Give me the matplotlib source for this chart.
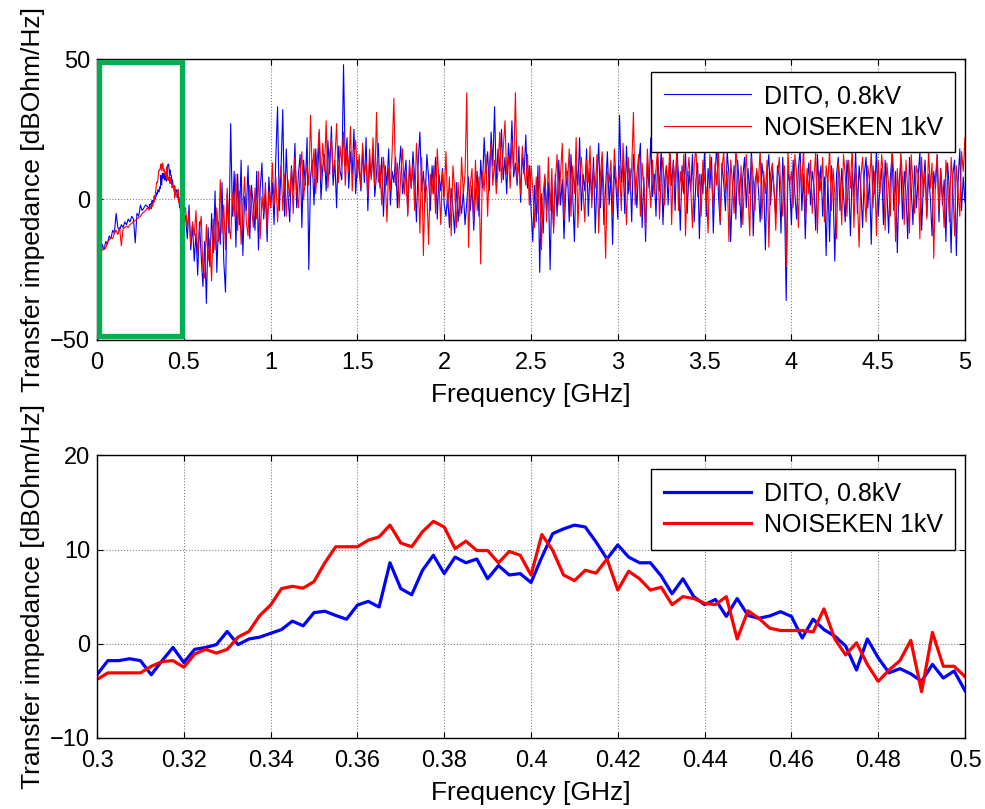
import numpy as np
import matplotlib
matplotlib.use("Agg")
import matplotlib.pyplot as plt
from matplotlib.patches import Rectangle
from matplotlib.ticker import FuncFormatter

plt.rcParams['font.family'] = ['Liberation Sans', 'DejaVu Sans']

# zoomed band 0.3 - 0.5 GHz, 0.0025 GHz step
zoom_freq = np.linspace(0.3, 0.5, 81)
zoom_dito = [-3.3, -1.8, -1.8, -1.6, -1.8, -3.3, -1.8, -0.4, -2.0, -0.6,
             -0.4, -0.1, 1.3, -0.1, 0.5, 0.7, 1.1, 1.5, 2.4, 1.9,
             3.3, 3.45, 3.0, 2.6, 4.1, 4.5, 3.9, 8.6, 5.85, 5.2,
             7.8, 9.4, 7.45, 9.2, 8.6, 9.0, 6.9, 8.3, 7.3, 7.45,
             6.5, 9.2, 11.7, 12.2, 12.6, 12.4, 10.8, 9.0, 10.5, 9.2,
             8.6, 8.6, 7.2, 5.3, 6.9, 5.0, 4.15, 4.7, 2.9, 4.8,
             3.0, 2.7, 2.95, 3.4, 2.9, 0.6, 2.6, 1.5, 0.8, -0.25,
             -2.8, 0.5, -1.5, -3.1, -2.65, -3.2, -4.0, -2.2, -3.65, -2.9,
             -5.0]
zoom_noiseken = [-3.8, -3.1, -3.1, -3.1, -3.1, -2.4, -1.9, -1.8, -2.5, -1.1,
                 -0.6, -1.0, -0.6, 0.7, 1.3, 3.0, 4.1, 5.85, 6.1, 5.9,
                 6.6, 8.6, 10.3, 10.3, 10.3, 11.0, 11.35, 12.6, 10.7, 10.3,
                 11.9, 13.0, 12.4, 10.1, 10.9, 9.9, 9.9, 8.6, 9.8, 9.4,
                 7.3, 11.6, 9.9, 7.3, 6.7, 7.8, 7.5, 9.0, 5.7, 7.7,
                 6.9, 5.7, 6.0, 4.15, 5.0, 4.8, 4.3, 4.15, 5.0, 0.5,
                 3.5, 2.7, 1.65, 1.4, 1.4, 1.4, 1.25, 3.7, 0.5, -1.2,
                 0.1, -2.2, -4.0, -2.8, -1.8, 0.35, -5.1, 1.2, -2.4, -2.4,
                 -3.5]

# low band 0 - 0.29 GHz, 0.01 GHz step
low_freq = np.arange(30) * 0.01
low_dito = [-21, -18, -20, -16, -18, -15, -16, -13, -14, -11,
            -12, -5, -10, -11, -9, -10, -8, -9, -7, -8,
            -6, -7, -15.5, -5, -6, -2, -4, -3, -2, -2.5]
low_noiseken = [-22, -20, -19.5, -18, -17, -17.5, -15, -14.5, -13.5, -14,
                -12, -11, -12.5, -10, -16.5, -10.5, -10, -9.5, -10, -9,
                -8.5, -8, -7.5, -7, -6.5, -6, -5, -4.5, -4, -3]

# high band 0.51 - 5.0 GHz, 0.01 GHz step
high_freq = 0.51 + np.arange(450) * 0.01
high_dito = [
    -6, -14, -2, -18, -9, -22, -12, -27, -8, -20,
    -31, -15, -37, -10, -24, -5, -19, 3, -26, -8,
    -16, 6, -22, -33, 2, -12, 27, -6, 10, -17,
    9, -9, 14, -20, 1, -4, 12, -14, 5, -2,
    -11, 10, -18, 4, 13, -7, 2, -15, 8, -3,
    6, -9, 15, 33, -4, 11, 32, -6, 18, 2,
    -8, 12, 3, 20, -3, 9, 16, -10, 14, 5,
    22, -25, 8, 14, -2, 18, 6, 24, 0, 11,
    16, 3, 21, 9, 26, 5, 14, -3, 19, 10,
    7, 48, 12, 22, 4, 17, 9, 25, 2, 14,
    11, 3, 18, 6, 22, -4, 13, 8, 17, 1,
    9, 20, 4, 15, -6, 12, 5, 18, -2, 10,
    6, 15, -3, 11, 19, 2, 8, 14, -5, 12,
    4, 17, 7, -8, 13, 24, 3, 10, -1, 16,
    8, -4, 12, 2, 15, -7, 9, 3, 11, -2,
    -6, 2, -10, 4, -3, -12, 6, -8, 1, -5,
    3, -9, -1, 8, -4, 5, -11, 2, 10, -6,
    14, 4, 22, 9, 17, 3, 24, 12, 33, 6,
    18, 10, 25, 7, 15, 2, 20, 11, 28, 8,
    13, 5, 19, -1, 16, 9, 23, 4, 12, -3,
    -15, 5, -8, 12, -26, 2, -12, 8, -4, 6,
    -25, 4, -10, 9, -6, 14, -2, 7, -14, 3,
    10, -8, 16, 2, -15, 12, 5, 22, -4, 9,
    3, 18, -6, 11, 0, 15, -12, 7, 20, -3,
    13, -9, 5, 17, -2, 9, -16, 12, 4, -7,
    30, 6, 14, -5, 19, 2, 11, -8, 16, 7,
    -3, 12, 20, -10, 8, -15, 13, 4, 22, 1,
    9, -6, 15, 3, 18, -9, 7, 12, -2, 16,
    5, 14, -4, 19, 8, -11, 12, 2, 17, -5,
    10, 3, 16, -8, 7, 13, -14, 9, 2, 18,
    -6, 11, 4, 15, -12, 8, 20, 1, -9, 13,
    6, -4, 17, 9, -15, 3, 12, -7, 14, 5,
    -10, 8, 15, -3, 11, 2, 18, -13, 6, 10,
    4, -8, 13, 7, -18, 9, 16, -2, 11, 3,
    -5, 12, 8, -12, 15, 1, -36, 10, 6, -9,
    14, 2, -7, 11, 18, -4, 9, -14, 6, 13,
    -2, 10, 5, -11, 16, 3, 12, -6, 8, -20,
    7, -15, 12, 3, -22, 9, 15, -4, 11, 2,
    -8, 14, 6, -13, 10, 1, 17, -5, 12, 4,
    -10, 9, 15, -3, 7, -16, 12, 2, 18, -6,
    5, 11, -9, 14, 3, -12, 8, 16, -4, 10,
    -19, 6, 13, -7, 10, 2, -14, 15, 4, -9,
    12, -3, 8, 17, -11, 5, 14, -6, 9, 1,
    -13, 10, 4, 16, -8, 11, -2, 7, -15, 13,
    3, -19, 9, 14, -20, 6, 18, -4, 8, -1]
high_noiseken = [
    -3, -10, -5, -16, -8, -13, -4, -20, -11, -6,
    -25, -28, -9, -22, -14, -29, -7, -18, -3, -15,
    7, -12, -2, -18, 4, -9, -14, 2, -6, 9,
    -11, 3, -16, -4, 8, -8, -13, 5, -2, -10,
    4, -7, 10, -14, 1, -5, 6, -11, 3, -3,
    13, -2, 8, -8, 5, 12, -4, 9, -6, 7,
    1, 11, -5, 15, 3, -3, 9, 17, 0, 8,
    12, 5, 30, 8, 18, 2, 15, 25, 7, 20,
    10, 28, 4, 16, 22, 9, 14, 27, 6, 19,
    12, 24, 5, 18, 10, 26, 3, 15, 21, 8,
    16, 4, 20, 9, 13, 1, 18, 7, 22, 5,
    31, 6, 12, -2, 15, 8, -8, 11, 3, 17,
    36, 5, 13, -3, 9, 18, 2, 10, -6, 14,
    4, 12, -4, 20, 8, -12, 15, -20, 7, 3,
    -16, 9, 2, 12, -5, 18, 6, -9, 10, 1,
    17, -3, 8, -13, 12, 4, -10, 6, -6, 15,
    2, 9, 38, -17, 5, 11, -8, 14, -4, 8,
    -23, 10, 3, 16, -6, 12, 20, 5, 14, 2,
    11, 24, 6, 18, 28, 9, 15, 4, 21, 10,
    38, 7, 13, 2, 19, 10, 5, 16, -2, 12,
    4, -10, 8, -5, 12, -18, 2, 9, -8, 15,
    -4, 11, -12, 6, 16, -2, 9, 20, -7, 13,
    5, 18, -6, 12, 2, 22, -10, 8, 15, 3,
    -8, 14, 6, 19, -3, 11, 4, 16, -12, 9,
    17, 2, -21, 10, 6, 14, -5, 18, 8, 1,
    12, -4, 20, 7, -9, 15, 3, 11, 31, -2,
    9, 16, -6, 13, 4, -11, 18, 7, -3, 14,
    2, 11, 19, -7, 8, 15, -2, 12, 5, 20,
    -9, 13, 6, 17, -4, 10, 3, 16, -13, 8,
    15, 4, -10, 12, 19, 1, 9, -6, 14, 7,
    3, -12, 16, 8, -3, 13, 5, 18, -8, 11,
    17, 2, 10, -15, 14, 6, -5, 19, 9, -2,
    12, -9, 7, 16, 3, -13, 15, 8, -4, 11,
    6, 18, -7, 10, 2, 14, -17, 9, 13, 4,
    -11, 8, 15, 3, -6, 12, -24, 17, 5, 10,
    -3, 16, 9, -10, 13, 4, 19, -7, 11, 2,
    14, -5, 8, 17, -12, 10, 3, 15, -8, 12,
    6, 18, -4, 11, 2, -14, 13, 7, -9, 16,
    9, -6, 14, 4, 19, -10, 11, 1, -17, 8,
    15, 3, -8, 12, 6, 17, -3, 10, -13, 14,
    2, 16, 8, -11, 13, 5, -6, 18, 9, -15,
    11, -2, 17, 7, -9, 14, 3, -12, 16, 6,
    -5, 12, 9, -14, 15, 1, 10, -7, 18, 4,
    13, -21, 8, 16, -4, 11, 2, -10, 14, 7,
    -8, 15, 5, -13, 12, 3, -6, 17, 10, 22]

labels = ['DITO, 0.8kV', 'NOISEKEN 1kV']

full_freq = np.concatenate([low_freq, zoom_freq, high_freq])
full_dito = np.concatenate([low_dito, zoom_dito, high_dito])
full_noiseken = np.concatenate([low_noiseken, zoom_noiseken, high_noiseken])

fig = plt.figure(figsize=(9.85, 8.09), dpi=100)
ax1 = fig.add_axes([0.0985, 0.580, 0.8812, 0.347])
ax2 = fig.add_axes([0.0985, 0.088, 0.8812, 0.349])

fmt = FuncFormatter(lambda v, p: '%g' % round(v, 4))
TICK_FS = 17
LABEL_FS = 19
LEG_FS = 18


def style(ax):
    ax.tick_params(direction='in', top=True, right=True, length=4,
                   width=0.8, labelsize=TICK_FS)
    ax.tick_params(axis='x', pad=9)
    ax.tick_params(axis='y', pad=5)
    ax.grid(True, linestyle=':', color='0.5', linewidth=0.8)
    for s in ax.spines.values():
        s.set_linewidth(1.0)
    ax.xaxis.set_major_formatter(fmt)
    ax.set_xlabel('Frequency [GHz]', fontsize=LABEL_FS, labelpad=6)
    ax.set_ylabel('Transfer impedance [dBOhm/Hz]', fontsize=LABEL_FS,
                  labelpad=4)


def legend(ax, y):
    leg = ax.legend(loc='upper right', bbox_to_anchor=(0.989, y),
                    fontsize=LEG_FS, fancybox=False, framealpha=1,
                    edgecolor='black', handlelength=3.5, handletextpad=0.5,
                    labelspacing=0.3, borderpad=0.5, borderaxespad=0)
    leg.get_frame().set_linewidth(1.0)


ax1.plot(full_freq, full_dito, color='#0000ff', lw=0.8, label=labels[0])
ax1.plot(full_freq, full_noiseken, color='#ff0000', lw=0.8, label=labels[1])
ax1.set_xlim(0, 5)
ax1.set_ylim(-50, 50)
ax1.set_xticks(np.arange(0, 5.01, 0.5))
ax1.set_yticks([-50, 0, 50])
style(ax1)
ax1.add_patch(Rectangle((0.01, -48.7), 0.48, 97.6, fill=False,
                        edgecolor='#00b050', lw=3.8, zorder=5))
legend(ax1, 0.955)

ax2.plot(zoom_freq, zoom_dito, color='#0000ff', lw=2.3, label=labels[0])
ax2.plot(zoom_freq, zoom_noiseken, color='#ff0000', lw=2.3, label=labels[1])
ax2.set_xlim(0.3, 0.5)
ax2.set_ylim(-10, 20)
ax2.set_xticks(np.linspace(0.3, 0.5, 11))
ax2.set_yticks([-10, 0, 10, 20])
style(ax2)
legend(ax2, 0.952)

fig.savefig('out.png', dpi=100)
